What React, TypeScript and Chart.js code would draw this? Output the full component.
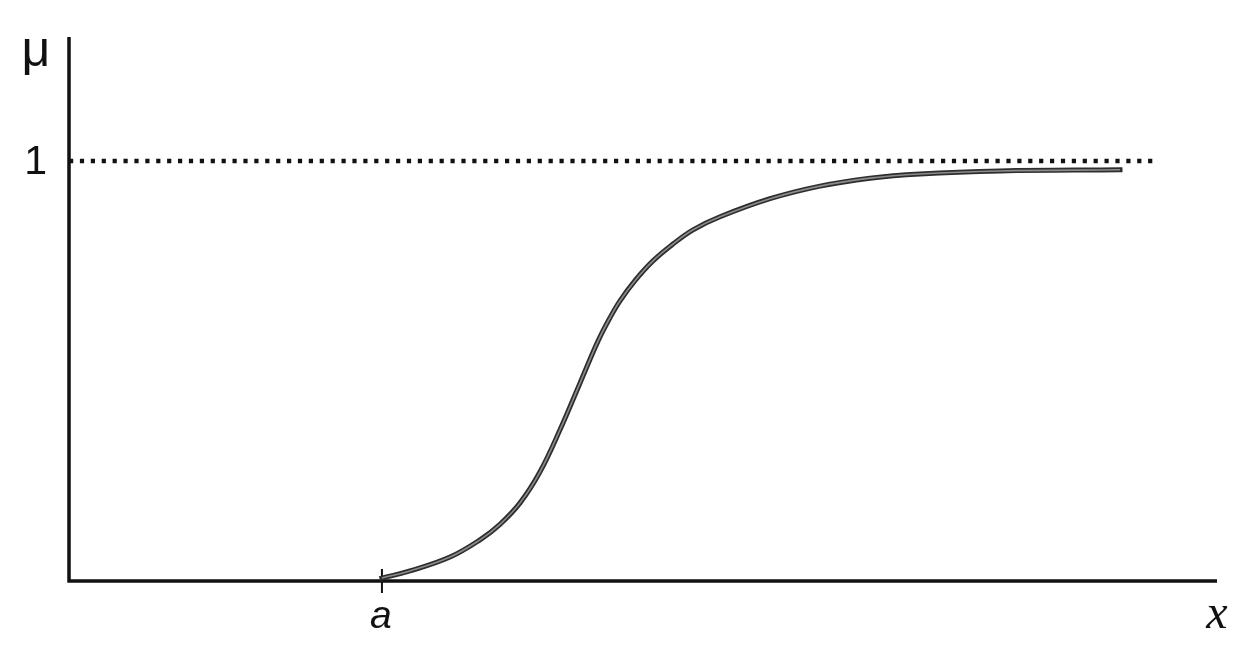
import React, { useEffect, useRef } from "react";
import { Chart, registerables } from "chart.js";

Chart.register(...registerables);

// Membership curve (x in arbitrary units 0..100, μ in 0..1)
const curveX = [27.26, 29.7, 33.19, 35.8, 37.54, 39.29, 41.03, 42.77, 44.51, 46.08, 47.13, 48.0, 49.3, 50.87, 52.61, 54.36, 56.71, 61.06, 65.42, 69.77, 74.13, 81.1, 91.55];
const curveMu = [0.007, 0.024, 0.057, 0.098, 0.135, 0.186, 0.26, 0.36, 0.471, 0.571, 0.627, 0.667, 0.715, 0.762, 0.802, 0.836, 0.867, 0.91, 0.94, 0.959, 0.969, 0.976, 0.979];

// Dotted reference line at μ = 1
const refX = [0, 94.6];
const refMu = [1, 1];

// Tick labels
const yTickValues = [1];
const yTickLabels = ["1"];
const xTickValues = [27.26];
const xTickLabels = ["a"];
const yAxisTitle = "μ";
const xAxisTitle = "x";

const X_MIN = 0;
const X_MAX = 100;
const Y_MIN = 0;
const Y_MAX = 1.295;

const axesPlugin = {
  id: "axesPlugin",
  beforeDatasetsDraw(chart: any) {
    const { ctx, chartArea } = chart;
    ctx.save();
    ctx.strokeStyle = "#111";
    ctx.lineWidth = 3.5;
    ctx.lineCap = "butt";
    ctx.beginPath();
    ctx.moveTo(chartArea.left, chartArea.top);
    ctx.lineTo(chartArea.left, chartArea.bottom + 1.5);
    ctx.moveTo(chartArea.left - 1.5, chartArea.bottom);
    ctx.lineTo(chartArea.right, chartArea.bottom);
    ctx.stroke();
    // tick marks on x axis
    const xs = chart.scales.x;
    ctx.lineWidth = 2;
    xTickValues.forEach((v) => {
      const px = xs.getPixelForValue(v);
      ctx.beginPath();
      ctx.moveTo(px, chartArea.bottom - 12);
      ctx.lineTo(px, chartArea.bottom + 12);
      ctx.stroke();
    });
    ctx.restore();
  },
  afterDraw(chart: any) {
    const { ctx, chartArea } = chart;
    const xs = chart.scales.x;
    const ys = chart.scales.y;
    ctx.save();
    ctx.fillStyle = "#111";
    // y tick labels
    ctx.font = "41px 'Liberation Sans', Arial, sans-serif";
    ctx.textAlign = "right";
    ctx.textBaseline = "middle";
    yTickValues.forEach((v, i) => {
      ctx.fillText(yTickLabels[i], chartArea.left - 22, ys.getPixelForValue(v) + 2);
    });
    // x tick labels
    ctx.font = "italic 39px 'Liberation Sans', Arial, sans-serif";
    ctx.textAlign = "center";
    ctx.textBaseline = "alphabetic";
    xTickValues.forEach((v, i) => {
      ctx.fillText(xTickLabels[i], xs.getPixelForValue(v) - 1, chartArea.bottom + 47);
    });
    // axis titles
    ctx.font = "50px 'Liberation Sans', Arial, sans-serif";
    ctx.textAlign = "center";
    ctx.fillText(yAxisTitle, chartArea.left - 33, chartArea.top + 29);
    ctx.font = "italic 48px 'Liberation Serif', 'Times New Roman', serif";
    ctx.fillText(xAxisTitle, chartArea.right, chartArea.bottom + 47);
    ctx.restore();
  },
};

export default function App() {
  const canvasRef = useRef<HTMLCanvasElement | null>(null);

  useEffect(() => {
    if (!canvasRef.current) return;
    const curve = curveX.map((x, i) => ({ x, y: curveMu[i] }));
    const ref = refX.map((x, i) => ({ x, y: refMu[i] }));
    const chart = new Chart(canvasRef.current, {
      type: "line",
      data: {
        datasets: [
          {
            data: curve,
            borderColor: "#8c8c8c",
            borderWidth: 1.6,
            pointRadius: 0,
            tension: 0.4,
            order: 0,
          },
          {
            data: curve,
            borderColor: "#2e2e2e",
            borderWidth: 5,
            borderCapStyle: "square",
            pointRadius: 0,
            tension: 0.4,
            order: 1,
          },
          {
            data: ref,
            borderColor: "#111",
            borderWidth: 4.5,
            borderDash: [4.2, 6.7],
            borderCapStyle: "butt",
            pointRadius: 0,
            order: 2,
          },
        ],
      },
      options: {
        responsive: true,
        maintainAspectRatio: false,
        animation: false,
        layout: { padding: { left: 69, right: 30, top: 37, bottom: 69 } },
        plugins: { legend: { display: false }, tooltip: { enabled: false } },
        events: [],
        scales: {
          x: { type: "linear", min: X_MIN, max: X_MAX, display: false },
          y: { type: "linear", min: Y_MIN, max: Y_MAX, display: false },
        },
      },
      plugins: [axesPlugin],
    });
    return () => chart.destroy();
  }, []);

  return (
    <div style={{ position: "absolute", left: 0, top: 0, width: 1247, height: 650, background: "#fff" }}>
      <canvas ref={canvasRef} />
    </div>
  );
}
